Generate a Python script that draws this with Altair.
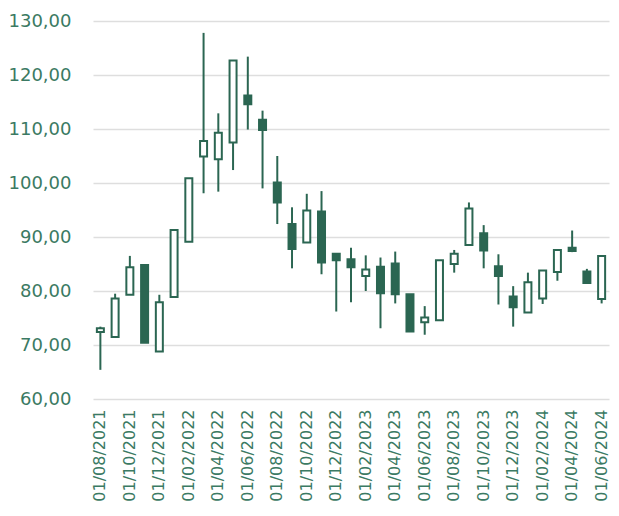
import altair as alt
import pandas as pd

dates = ["01/08/2021","01/09/2021","01/10/2021","01/11/2021","01/12/2021",
         "01/01/2022","01/02/2022","01/03/2022","01/04/2022","01/05/2022",
         "01/06/2022","01/07/2022","01/08/2022","01/09/2022","01/10/2022",
         "01/11/2022","01/12/2022","01/01/2023","01/02/2023","01/03/2023",
         "01/04/2023","01/05/2023","01/06/2023","01/07/2023","01/08/2023",
         "01/09/2023","01/10/2023","01/11/2023","01/12/2023","01/01/2024",
         "01/02/2024","01/03/2024","01/04/2024","01/05/2024","01/06/2024"]
opens  = [72.4, 71.5, 79.3, 84.8, 68.8, 78.9, 89.1, 104.9, 104.4, 107.5,
          116.2, 111.7, 100.1, 92.4, 89.0, 94.7, 86.9, 85.9, 82.8, 84.5,
          85.1, 79.4, 74.2, 74.6, 85.0, 88.5, 90.7, 84.6, 79.0, 76.0,
          78.6, 83.5, 88.0, 83.6, 78.5]
closes = [73.1, 78.6, 84.4, 70.4, 77.9, 91.3, 100.9, 107.8, 109.3, 122.7,
          114.6, 109.8, 96.4, 87.8, 94.9, 85.3, 85.7, 84.4, 84.0, 79.6,
          79.4, 72.5, 75.1, 85.7, 86.9, 95.3, 87.5, 82.8, 77.0, 81.6,
          83.8, 87.6, 87.4, 81.5, 86.5]
highs  = [73.4, 79.5, 86.5, 84.8, 79.3, 91.3, 100.9, 127.8, 112.9, 122.7,
          123.4, 113.4, 105.0, 95.5, 98.0, 98.5, 86.9, 88.0, 86.6, 86.2,
          87.3, 79.4, 77.2, 85.7, 87.6, 96.4, 92.2, 86.8, 80.9, 83.4,
          83.8, 87.6, 91.2, 84.1, 86.5]
lows   = [65.4, 71.5, 79.3, 70.4, 68.8, 78.9, 89.1, 98.1, 98.4, 102.4,
          109.9, 99.0, 92.4, 84.2, 89.0, 83.1, 76.2, 77.9, 80.0, 73.1,
          77.7, 72.5, 71.9, 74.6, 83.4, 88.5, 84.2, 77.5, 73.4, 76.0,
          77.6, 81.9, 87.2, 81.5, 77.7]
tick_labels = dates[::2]

df = pd.DataFrame({"date": dates, "open": opens, "close": closes,
                   "high": highs, "low": lows})
df["up"] = df["close"] >= df["open"]

GREEN = "#2b6652"
TEXT = "#3b7a63"
FONT = "DejaVu Sans"

x = alt.X("date:N", sort=dates,
          scale=alt.Scale(paddingInner=0, paddingOuter=0),
          axis=alt.Axis(values=tick_labels, title=None, labelAngle=270,
                        labelFontSize=16, labelColor=TEXT, labelFont=FONT,
                        labelPadding=10, ticks=False, domain=False, grid=False,
                        labelOverlap=False))
yscale = alt.Scale(domain=[60, 130], nice=False, zero=False)

base = alt.Chart(df)

wicks = base.mark_rule(color=GREEN, strokeWidth=2).encode(
    x=x,
    y=alt.Y("low:Q", scale=yscale,
            axis=alt.Axis(values=[60, 70, 80, 90, 100, 110, 120, 130], title=None,
                          labelExpr="replace(format(datum.value, '.2f'), '.', ',')",
                          labelFontSize=18, labelColor=TEXT, labelFont=FONT,
                          labelPadding=22, ticks=False, tickSize=0, domain=False,
                          grid=True, gridColor="#dedede", gridWidth=1.6)),
    y2="high:Q",
)

bodies = base.mark_bar(size=7, stroke=GREEN, strokeWidth=2).encode(
    x=x,
    y=alt.Y("open:Q", scale=yscale),
    y2="close:Q",
    fill=alt.condition("datum.up", alt.value("white"), alt.value(GREEN)),
)

chart = alt.layer(wicks, bodies).properties(
    width=516, height=378,
    autosize=alt.AutoSizeParams(type="none"),
    padding={"left": 85, "top": 13, "right": 2, "bottom": 106},
).configure_view(stroke=None)

chart.save("out.html", embed_options={"renderer": "svg", "actions": False})
